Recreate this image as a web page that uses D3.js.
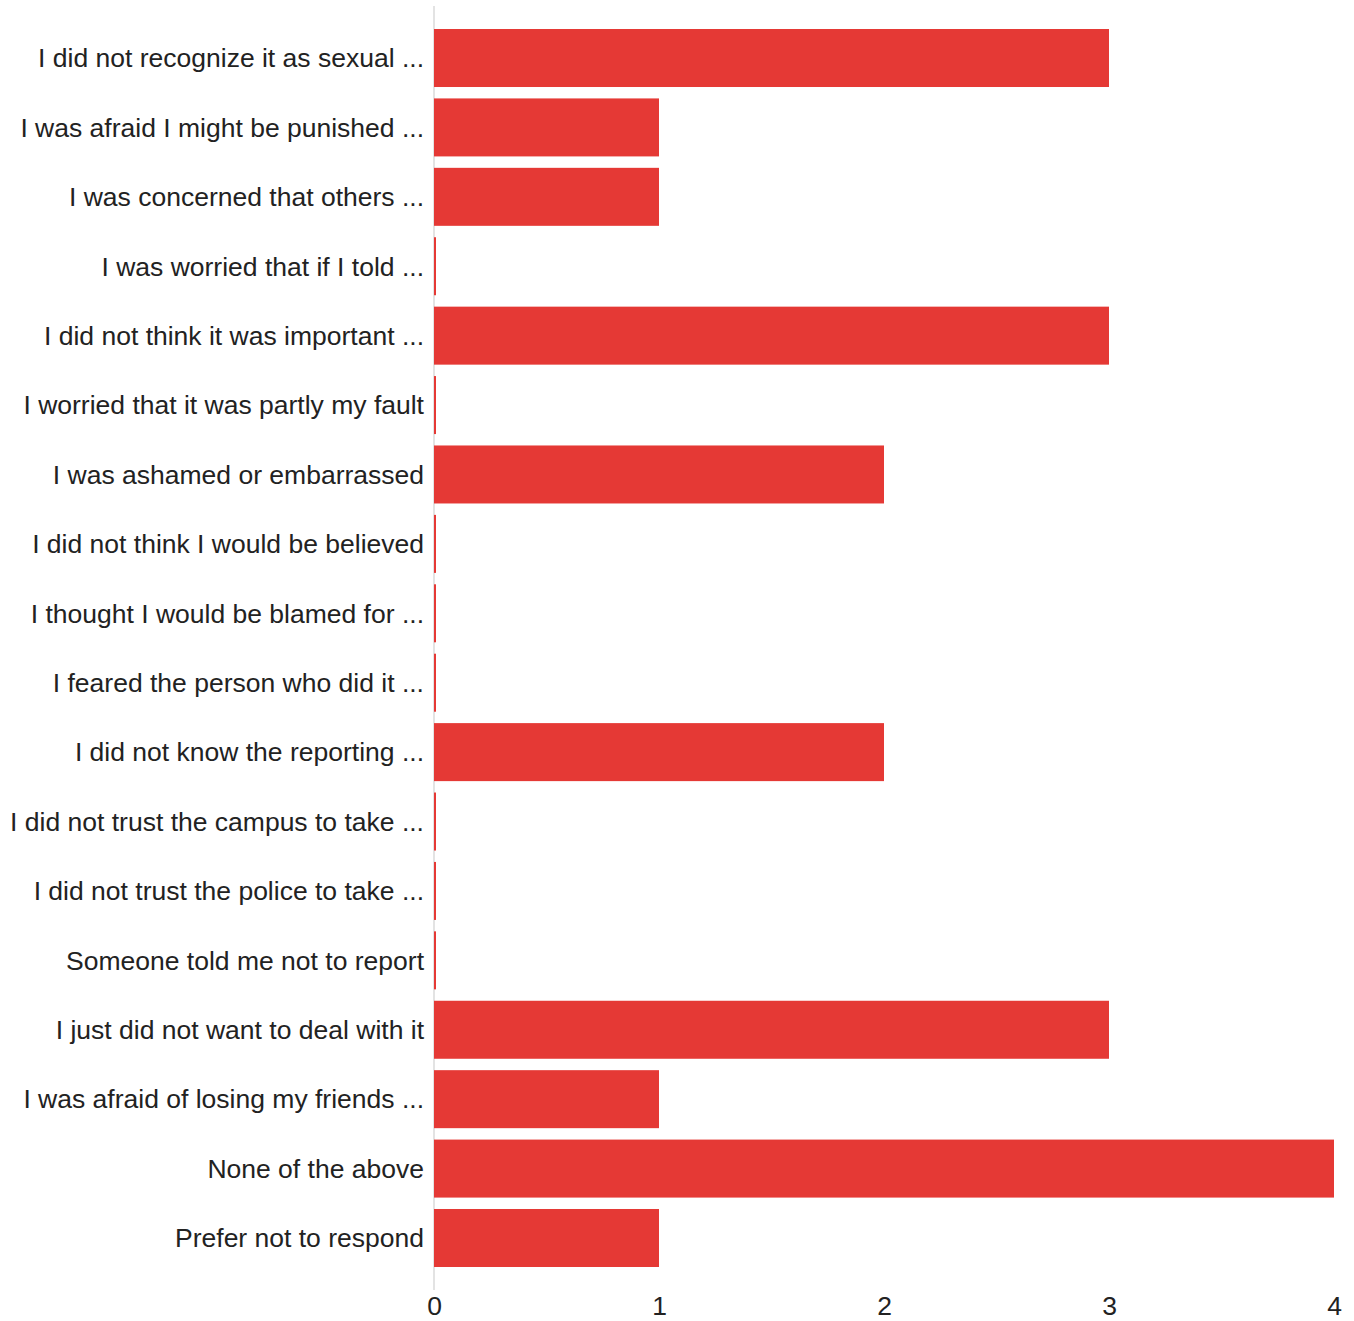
<!DOCTYPE html>
<html>
<head>
<meta charset="utf-8">
<script src="https://cdn.jsdelivr.net/npm/d3@7"></script>
<style>
  html, body { margin: 0; padding: 0; background: #fff; }
  svg text { font-family: "Liberation Sans", Arial, sans-serif; }
</style>
</head>
<body>
<svg id="chart" width="1354" height="1321"></svg>
<script>
const categories = [
  "I did not recognize it as sexual ...",
  "I was afraid I might be punished ...",
  "I was concerned that others ...",
  "I was worried that if I told ...",
  "I did not think it was important ...",
  "I worried that it was partly my fault",
  "I was ashamed or embarrassed",
  "I did not think I would be believed",
  "I thought I would be blamed for ...",
  "I feared the person who did it ...",
  "I did not know the reporting ...",
  "I did not trust the campus to take ...",
  "I did not trust the police to take ...",
  "Someone told me not to report",
  "I just did not want to deal with it",
  "I was afraid of losing my friends ...",
  "None of the above",
  "Prefer not to respond"
];
const values = [3, 1, 1, 0, 3, 0, 2, 0, 0, 0, 2, 0, 0, 0, 3, 1, 4, 1];
const tickValues = [0, 1, 2, 3, 4];

const svg = d3.select("#chart");
const x = d3.scaleLinear().domain([0, 4]).range([434, 1334]);
const y = d3.scaleBand().domain(categories).range([23.3, 1272.7]).paddingInner(0.1644).paddingOuter(0.0822);

// baseline axis line
svg.append("line")
  .attr("x1", x(0)).attr("x2", x(0))
  .attr("y1", 6).attr("y2", 1290)
  .attr("stroke", "#e3e3e3").attr("stroke-width", 2);

// bars
svg.append("g").selectAll("rect")
  .data(categories)
  .join("rect")
  .attr("x", x(0))
  .attr("y", d => y(d))
  .attr("height", y.bandwidth())
  .attr("width", (d, i) => Math.max(2, x(values[i]) - x(0)))
  .attr("fill", "#e53935");

// category labels
svg.append("g").selectAll("text")
  .data(categories)
  .join("text")
  .attr("x", 424)
  .attr("y", d => y(d) + y.bandwidth() / 2)
  .attr("dy", "0.35em")
  .attr("text-anchor", "end")
  .attr("font-size", 26.5)
  .attr("fill", "#222")
  .text(d => d);

// x tick labels
const xAxis = d3.axisBottom(x).tickValues(tickValues).tickFormat(d3.format("d")).tickSize(0).tickPadding(0);
const gx = svg.append("g").attr("transform", "translate(0,1315)").call(xAxis);
gx.select(".domain").remove();
gx.selectAll("text")
  .attr("font-size", 26.5)
  .attr("fill", "#222")
  .attr("font-family", "Liberation Sans, Arial, sans-serif")
  .attr("y", 0)
  .attr("dy", "0");
</script>
</body>
</html>
